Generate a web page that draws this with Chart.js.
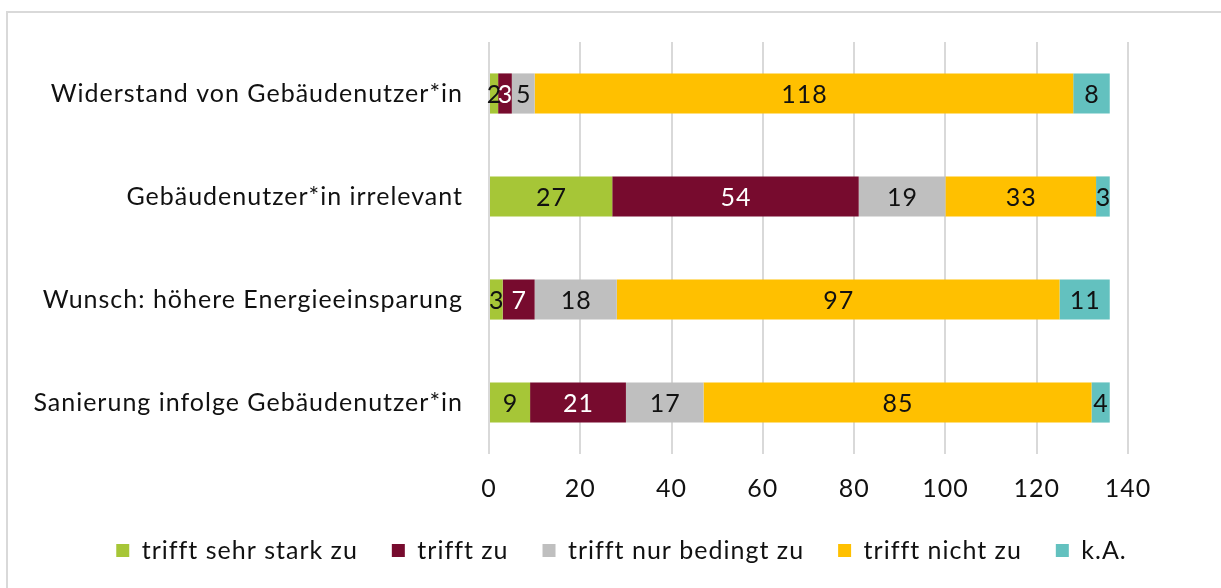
<!DOCTYPE html>
<html lang="de">
<head>
<meta charset="utf-8">
<title>Gebäudenutzer*in</title>
<script src="https://cdn.jsdelivr.net/npm/chart.js@4/dist/chart.umd.min.js"></script>
<style>
    html, body { margin: 0; padding: 0; background: #fff; overflow: hidden; }
    .rahmen {
        position: absolute; left: 6px; top: 11px;
        width: 1400px; height: 800px;
        border: 2px solid #d9d9d9;
    }
    #chart { position: absolute; left: 0; top: 0; }
</style>
</head>
<body>
<div class="rahmen"></div>
<canvas id="chart" width="1221" height="588"></canvas>
<script>
// Kategorien und Werte
const kategorien = [
    'Widerstand von Gebäudenutzer*in',
    'Gebäudenutzer*in irrelevant',
    'Wunsch: höhere Energieeinsparung',
    'Sanierung infolge Gebäudenutzer*in'
];
const serienNamen = ['trifft sehr stark zu', 'trifft zu', 'trifft nur bedingt zu', 'trifft nicht zu', 'k.A.'];
const sehrStark = [2, 27, 3, 9];
const triffZu = [3, 54, 7, 21];
const bedingt = [5, 19, 18, 17];
const nicht = [118, 33, 97, 85];
const keineAngabe = [8, 3, 11, 4];
const xTicks = [0, 20, 40, 60, 80, 100, 120, 140];

const farben = ['#a6c637', '#770b2e', '#bfbfbf', '#ffc000', '#63c1bf'];
const labelFarben = ['#111', '#fff', '#111', '#111', '#111'];
const schrift = 'Lato, "Open Sans", sans-serif';
const groesse = 25;

// Calibri-ähnliche Breite: etwas Sperrung
const sperrung = {
    id: 'sperrung',
    beforeLayout(chart) { chart.ctx.letterSpacing = '1px'; },
    beforeDraw(chart) { chart.ctx.letterSpacing = '1px'; }
};

// Werte in die Balken schreiben
const wertePlugin = {
    id: 'werte',
    afterDatasetsDraw(chart) {
        const ctx = chart.ctx;
        ctx.save();
        ctx.font = groesse + 'px ' + schrift;
        ctx.textAlign = 'center';
        ctx.textBaseline = 'middle';
        chart.data.datasets.forEach((ds, i) => {
            const meta = chart.getDatasetMeta(i);
            meta.data.forEach((bar, j) => {
                const p = bar.getProps(['x', 'y', 'base'], true);
                ctx.fillStyle = labelFarben[i];
                ctx.fillText(ds.data[j], (p.x + p.base) / 2 + 0.5, p.y + 1);
            });
        });
        ctx.restore();
    }
};

const reihen = [sehrStark, triffZu, bedingt, nicht, keineAngabe];

new Chart(document.getElementById('chart'), {
    type: 'bar',
    data: {
        labels: kategorien,
        datasets: reihen.map((werte, i) => ({
            label: serienNamen[i],
            data: werte,
            backgroundColor: farben[i],
            borderWidth: 0,
            barPercentage: 0.39,
            categoryPercentage: 1
        }))
    },
    options: {
        indexAxis: 'y',
        responsive: false,
        animation: false,
        layout: { padding: { top: 42, right: 0, bottom: 15, left: 22 } },
        plugins: {
            legend: {
                position: 'bottom',
                labels: {
                    boxWidth: 13,
                    boxHeight: 13,
                    padding: 34,
                    color: '#111',
                    font: { family: schrift, size: groesse }
                }
            },
            tooltip: { enabled: false }
        },
        scales: {
            x: {
                stacked: true,
                min: 0,
                max: 140,
                afterBuildTicks(scale) {
                    scale.ticks = xTicks.map(v => ({ value: v }));
                },
                afterFit(scale) { scale.height = 50; },
                grid: { color: '#d9d9d9', lineWidth: 2, drawTicks: false },
                border: { display: false },
                ticks: {
                    padding: 20,
                    color: '#111',
                    font: { family: schrift, size: groesse }
                }
            },
            y: {
                stacked: true,
                afterFit(scale) { scale.width = 467; },
                grid: { display: false },
                border: { display: false },
                ticks: {
                    padding: 18,
                    color: '#111',
                    font: { family: schrift, size: groesse }
                }
            },
            // leerer Rand rechts vom Diagramm
            rand: {
                type: 'linear',
                position: 'right',
                afterFit(scale) { scale.width = 93; },
                grid: { display: false },
                border: { display: false },
                ticks: { display: false }
            }
        }
    },
    plugins: [sperrung, wertePlugin]
});
</script>
</body>
</html>
